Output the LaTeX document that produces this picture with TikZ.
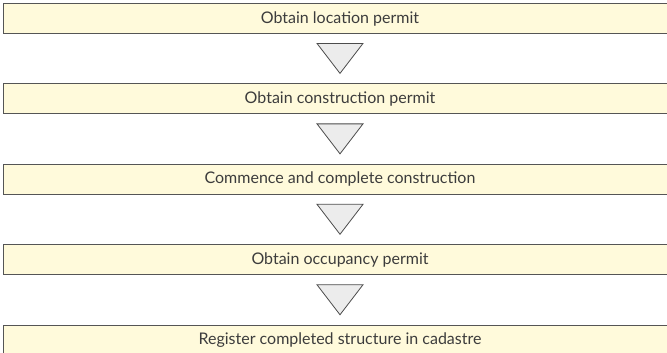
\documentclass[tikz,border=0pt]{standalone}
\usepackage{fontspec}
\setmainfont{Lato}
\usetikzlibrary{positioning,shapes.geometric}
\definecolor{stepfill}{RGB}{255,250,219}
\definecolor{stepline}{RGB}{85,85,85}
\definecolor{steptext}{RGB}{60,60,60}
\definecolor{trifill}{RGB}{236,236,236}
\tikzset{x=1pt,y=1pt,
    node distance=9pt,
    stepbox/.style={draw=stepline,fill=stepfill,line width=1pt,
        minimum width=673pt,minimum height=30pt,inner sep=0pt,
        font=\fontsize{16}{18}\selectfont,text=steptext},
    downtri/.style={draw=stepline!90!black,fill=trifill,line width=0.8pt,
        isosceles triangle,shape border rotate=270,
        isosceles triangle stretches,inner sep=0pt,
        minimum width=46pt,minimum height=30pt},
    }

\begin{document}
\begin{tikzpicture}
\useasboundingbox (0,0) rectangle (667,-353);
\clip (0,0) rectangle (667,-353);
\node[stepbox] (loc) at (340,-18.5) {Obtain location permit};
\node[downtri,below=of loc] (t1) {};
\node[stepbox,below=of t1] (cons) {Obtain construction permit};
\node[downtri,below=of cons] (t2) {};
\node[stepbox,below=of t2] (build) {Commence and complete construction};
\node[downtri,below=of build] (t3) {};
\node[stepbox,below=of t3] (occ) {Obtain occupancy permit};
\node[downtri,below=of occ] (t4) {};
\node[stepbox,below=of t4] (cad) {Register completed structure in cadastre};
\end{tikzpicture}
\end{document}
